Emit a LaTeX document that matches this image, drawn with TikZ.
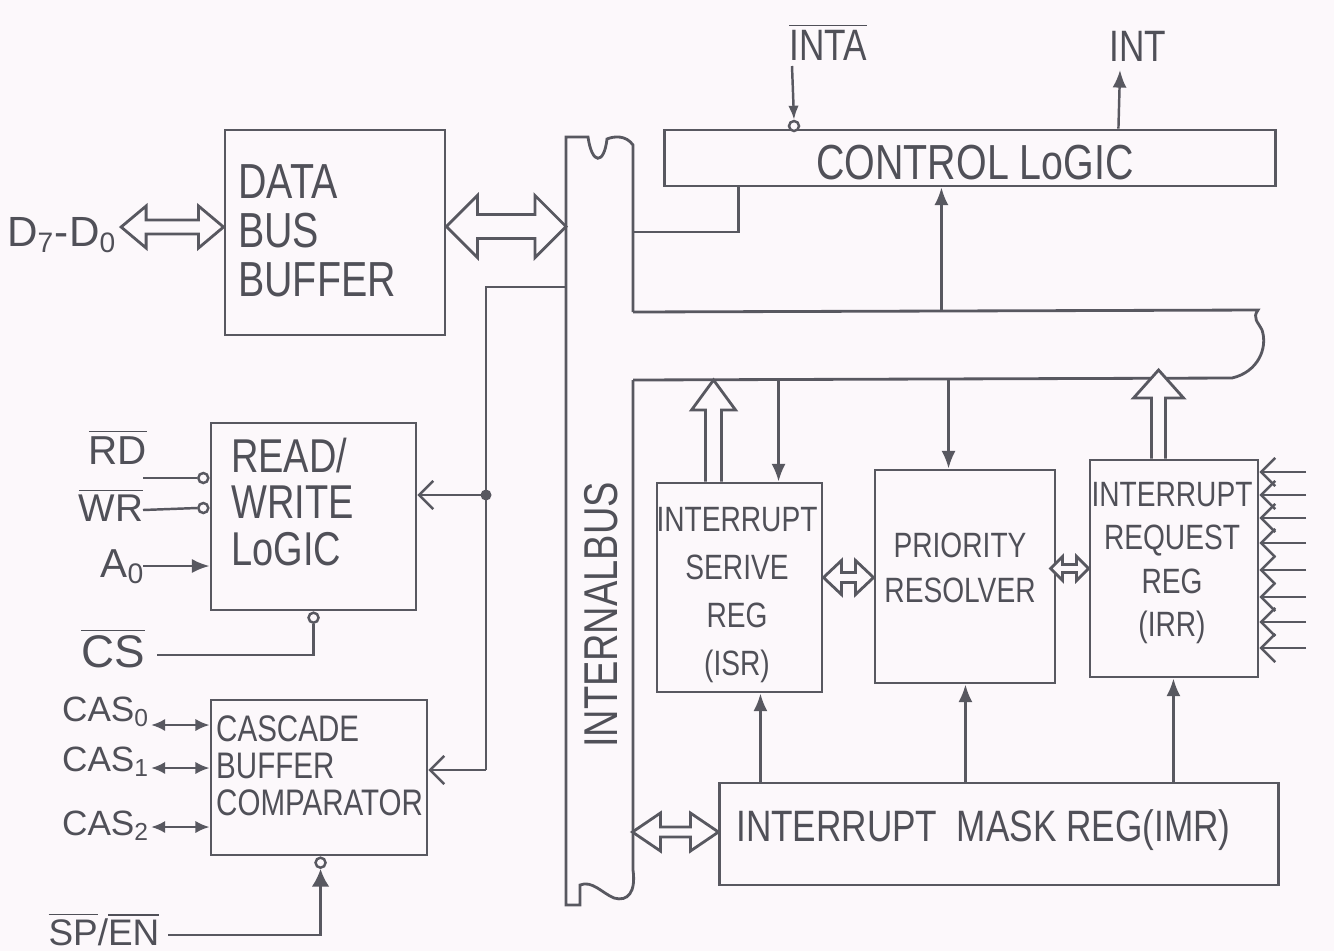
\documentclass[tikz,border=0pt]{standalone}
\usepackage{fontspec}
\setmainfont{Liberation Sans}
\newfontfamily\hand[FakeStretch=0.8]{Liberation Sans}
\usetikzlibrary{arrows.meta,calc}
\definecolor{ink}{RGB}{88,88,96}
\definecolor{txt}{RGB}{80,80,88}
\definecolor{paper}{RGB}{252,248,251}
\newdimen\pxu \pxu=0.28453pt
\newcommand{\ovl}[1]{$\overline{\mbox{#1}}$}
% horizontal hollow double arrow: start, end, shaft half, head half, head length (px)
\newcommand{\hbi}[5]{%
  \draw[hol] let \p1=#1, \p2=#2 in
  (\x1,\y1) -- (\x1+#5*\pxu,\y1+#4*\pxu) -- (\x1+#5*\pxu,\y1+#3*\pxu)
  -- (\x2-#5*\pxu,\y1+#3*\pxu) -- (\x2-#5*\pxu,\y1+#4*\pxu) -- (\x2,\y1)
  -- (\x2-#5*\pxu,\y1-#4*\pxu) -- (\x2-#5*\pxu,\y1-#3*\pxu)
  -- (\x1+#5*\pxu,\y1-#3*\pxu) -- (\x1+#5*\pxu,\y1-#4*\pxu) -- cycle;}
% vertical hollow single arrow upward: base point, tip point (y used), shaft half, head half, head length
\newcommand{\vup}[5]{%
  \draw[hol] let \p1=#1, \p2=#2 in
  (\x1-#3*\pxu,\y1) -- (\x1-#3*\pxu,\y2-#5*\pxu) -- (\x1-#4*\pxu,\y2-#5*\pxu)
  -- (\x1,\y2) -- (\x1+#4*\pxu,\y2-#5*\pxu) -- (\x1+#3*\pxu,\y2-#5*\pxu) -- (\x1+#3*\pxu,\y1);}
\begin{document}
\begin{tikzpicture}[x=0.01cm,y=-0.01cm,color=ink,line width=0.7pt,
  blk/.style={draw=ink,line width=0.8pt,rectangle,inner sep=0pt},
  hol/.style={draw=ink,line width=0.8pt,fill=paper,line join=miter},
  tx/.style={text=txt,inner sep=0pt,font=\hand},
  lab/.style={text=txt,inner sep=0pt},
  fa/.style={-{Latex[length=5pt,width=4pt]}},
  oa/.style={-{Straight Barb[length=4pt,width=8pt]}},
  bub/.style={draw=ink,circle,line width=0.7pt,minimum size=0.1cm,inner sep=0pt,fill=paper}]
\fill[paper,draw=none] (0,0) rectangle (1334,951);
\useasboundingbox (0,0) rectangle (1334,951);

% ---------- blocks ----------
\node[blk,minimum width=2.20cm,minimum height=2.05cm] (dbb) at (335,232.5) {};
\node[blk,minimum width=2.05cm,minimum height=1.87cm] (rw) at (313.5,516.5) {};
\node[blk,minimum width=2.16cm,minimum height=1.55cm] (cas) at (319,777.5) {};
\node[blk,minimum width=6.10cm,minimum height=0.56cm] (ctrl) at (970,158) {};
\node[blk,minimum width=1.65cm,minimum height=2.09cm] (isr) at (739.5,587.5) {};
\node[blk,minimum width=1.80cm,minimum height=2.13cm] (pr) at (965,576.5) {};
\node[blk,minimum width=1.68cm,minimum height=2.17cm] (irr) at (1174,568.5) {};
\node[blk,minimum width=5.58cm,minimum height=1.02cm] (imr) at (999,834) {};

% ---------- block texts ----------
\node[tx,anchor=west,align=left,font=\hand\fontsize{14}{14}\selectfont] (dbbT) at (237,231) {DATA\\BUS\\BUFFER};
\node[tx,font=\hand\fontsize{14}{14}\selectfont] (ctrlT) at (975,163) {CONTROL LoGIC};
\node[tx,anchor=west,align=left,font=\hand\fontsize{13.5}{13.2}\selectfont] (rwT) at (230,502) {READ/\\WRITE\\LoGIC};
\node[tx,anchor=west,align=left,font=\hand\fontsize{10.5}{10.5}\selectfont] (casT) at (215,766) {CASCADE\\BUFFER\\COMPARATOR};
\node[tx,rotate=90,font=\hand\fontsize{13.5}{13.5}\selectfont] (busT) at (601,615) {INTERNALBUS};
\node[tx,align=center,font=\hand\fontsize{10}{13.7}\selectfont] (isrT) at (737,595) {INTERRUPT\\SERIVE\\REG\\(ISR)};
\node[tx,align=center,font=\hand\fontsize{10}{12.8}\selectfont] (prT) at (960,568) {PRIORITY\\RESOLVER};
\node[tx,align=center,font=\hand\fontsize{10}{12.3}\selectfont] (irrT) at (1172,563) {INTERRUPT\\REQUEST\\REG\\(IRR)};
\node[tx,anchor=west,font=\hand\fontsize{12.5}{12.5}\selectfont] (imrT) at (735,830) {INTERRUPT\ \ MASK REG(IMR)};

% ---------- internal bus ----------
\coordinate (bTL) at (633,312);
\coordinate (bBL) at (633,380);
\draw[line width=0.8pt] (bTL) -- (633,145) .. controls (626,135) and (614,136) .. (607,139)
  .. controls (604,165) and (592,165) .. (588,137) -- (566,137) -- (566,905) -- (580,905) -- (580,885)
  .. controls (592,880) and (602,893) .. (614,898) .. controls (628,902) and (636,892) .. (633,870) -- (bBL);
\draw[line width=0.8pt] (bTL) -- (1258,310) .. controls (1252,318) and (1258,322) .. (1262,330)
  .. controls (1268,348) and (1258,372) .. (1232,378) -- (bBL);
\coordinate (busL) at (566,287);
\coordinate (busR) at (633,232);

% ---------- data bus buffer connections ----------
\node[lab,font=\fontsize{12}{12}\selectfont] (d70) at (62,235) {D\textsubscript{7}-D\textsubscript{0}};
\hbi{($(d70.east)+(3,-8)$)}{($(dbb.west)+(0,-8)$)}{7}{21}{25}
\hbi{($(dbb.east)+(0,-6)$)}{($(busL)+(0,-60)$)}{12}{31}{31}

% ---------- control logic ----------
\node[lab,font=\hand\fontsize{12.5}{12.5}\selectfont] (inta) at (828,42) {\ovl{INTA}};
\node[lab,font=\hand\fontsize{12.5}{12.5}\selectfont] (int) at (1138,46) {INT};
\node[bub] (intab) at (794,126) {};
\draw[-{Latex[length=4pt,width=3pt]}] (792,66) -- (intab.north);
\coordinate (intO) at ($(ctrl.north west)+(455,0)$);
\draw[fa] (intO) -- (1120,70);
\coordinate (ctrlO) at ($(ctrl.south west)+(75,0)$);
\draw (ctrlO) |- (busR);
\coordinate (ctrlI) at ($(ctrl.south west)+(278,0)$);
\draw[fa] (ctrlI |- bTL) -- (ctrlI);

% ---------- read/write and cascade feed ----------
\coordinate (jt) at (486,287);
\coordinate (jd) at (486,495);
\coordinate (jb) at (486,770);
\draw (busL) -- (jt) -- (jb);
\fill[ink] (jd) circle (0.055cm);
\draw[oa] (jd) -- (jd -| rw.east);
\draw[oa] (jb) -- (jb -| cas.east);

% ---------- read/write inputs ----------
\node[lab,font=\fontsize{11.5}{11.5}\selectfont] (rd) at (118,447) {\ovl{RD}};
\node[lab,font=\fontsize{11}{11}\selectfont] (wr) at (111,505) {\ovl{WR}};
\node[lab,font=\fontsize{11.5}{11.5}\selectfont] (a0) at (123,567) {A\textsubscript{0}};
\node[lab,font=\fontsize{13}{13}\selectfont] (cs) at (113,648) {\ovl{CS}};
\node[bub,anchor=east] (rdb) at (rw.west |- 0,478) {};
\node[bub,anchor=east] (wrb) at (rw.west |- 0,508) {};
\draw (143,478) -- (rdb.west);
\draw (143,510) -- (wrb.west);
\draw[fa] (143,566) -- (rw.west |- 0,566);
\coordinate (csin) at ($(rw.south west)+(104,0)$);
\node[bub,anchor=north] (csb) at (csin) {};
\draw (157,655) -| (csb.south);

% ---------- cascade signals ----------
\node[lab,font=\fontsize{10}{10}\selectfont] (c0) at (106,712) {CAS\textsubscript{0}};
\node[lab,font=\fontsize{10}{10}\selectfont] (c1) at (106,762) {CAS\textsubscript{1}};
\node[lab,font=\fontsize{10}{10}\selectfont] (c2) at (106,826) {CAS\textsubscript{2}};
\draw[{Latex[length=4pt,width=3.5pt]}-{Latex[length=4pt,width=3.5pt]}] (c0.east |- 0,725) -- (cas.west |- 0,725);
\draw[{Latex[length=4pt,width=3.5pt]}-{Latex[length=4pt,width=3.5pt]}] (c1.east |- 0,768) -- (cas.west |- 0,768);
\draw[{Latex[length=4pt,width=3.5pt]}-{Latex[length=4pt,width=3.5pt]}] (c2.east |- 0,827) -- (cas.west |- 0,827);
\node[lab,font=\fontsize{10.5}{10.5}\selectfont] (spen) at (104,929) {\ovl{SP}/\ovl{EN}};
\coordinate (spin) at ($(cas.south west)+(111,0)$);
\node[bub,anchor=north] (spb) at (spin) {};
\draw[-{Latex[length=5pt,width=5pt]}] (168,935) -| (spb.south);

% ---------- right side registers ----------
\vup{($(isr.north west)+(58,0)$)}{(bBL)}{8}{22}{30}
\coordinate (isrI) at ($(isr.north west)+(123,0)$);
\draw[fa] (isrI |- bBL) -- (isrI);
\coordinate (prI) at ($(pr.north west)+(75,0)$);
\draw[fa] (prI |- bBL) -- (prI);
\vup{($(irr.north west)+(70,0)$)}{($(bBL)+(0,-10)$)}{7}{25}{28}
\hbi{($(isr.east)+(0,-10)$)}{(pr.west)}{5}{17}{18}
\hbi{($(irr.west)+(-38,0)$)}{(irr.west)}{4}{12}{12}
\hbi{($(imr.west)+(-86,-2)$)}{(imr.west)}{5}{19}{28}
\foreach \yy in {472,495,518,543,570,597,622,648}
  \draw[oa] (1306,\yy) -- (irr.east |- 0,\yy);
\coordinate (m1) at ($(imr.north west)+(42,0)$);
\coordinate (m2) at ($(imr.north west)+(247,0)$);
\coordinate (m3) at ($(imr.north west)+(455,0)$);
\draw[fa] (m1) -- (m1 |- isr.south);
\draw[fa] (m2) -- (m2 |- pr.south);
\draw[fa] (m3) -- (m3 |- irr.south);
\end{tikzpicture}
\end{document}
